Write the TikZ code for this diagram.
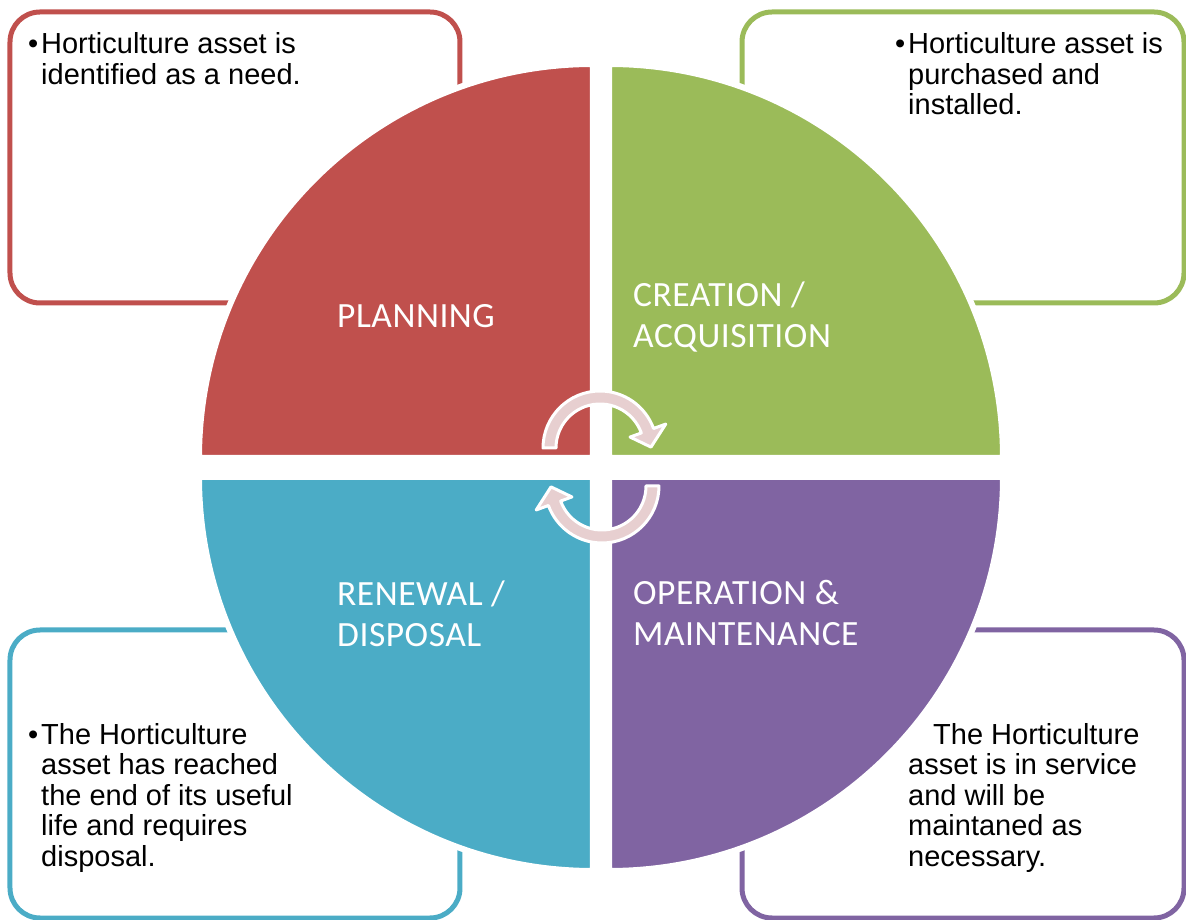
\documentclass[tikz,border=0pt]{standalone}
\usepackage{fontspec}
\setmainfont{Liberation Sans}
\newfontfamily\quadfont[LetterSpace=1.5]{Carlito}
\definecolor{planred}{RGB}{192,80,77}
\definecolor{creagreen}{RGB}{155,187,89}
\definecolor{renteal}{RGB}{75,172,198}
\definecolor{opviolet}{RGB}{128,100,162}
\definecolor{cyclepink}{RGB}{231,207,208}

\begin{document}
\begin{tikzpicture}
        [x=1pt,y=1pt,
        box/.style={draw=#1,line width=5pt,rounded corners=30pt},
        quad/.style={fill=#1,draw=white,line width=6pt},
        note/.style={anchor=base west,inner sep=0pt,align=left,
                     font=\fontsize{29}{30.5}\selectfont},% base = last line
        lbl/.style={anchor=base west,inner sep=0pt,align=left,text=white,
                    font=\quadfont\fontsize{35.5}{41}\selectfont},
        cyc/.style={fill=cyclepink,draw=white,line width=3pt,line join=round}]
        \useasboundingbox (-601,-453) rectangle (585,467);
        % outer boxes
        \draw[box=planred] (-591,164) rectangle (-141,455);
        \draw[box=creagreen] (141,164) rectangle (583,455);
        \draw[box=renteal] (-591,-451) rectangle (-141,-163);
        \draw[box=opviolet] (141,-451) rectangle (583,-163);
        % the four quarters
        \draw[quad=planred] (-8,9) -- ++(-394,0) arc[start angle=180,end angle=90,radius=394] -- cycle;
        \draw[quad=creagreen] (8,9) -- ++(0,394) arc[start angle=90,end angle=0,radius=394] -- cycle;
        \draw[quad=renteal] (-8,-10) -- ++(0,-394) arc[start angle=270,end angle=180,radius=394] -- cycle;
        \draw[quad=opviolet] (8,-10) -- ++(394,0) arc[start angle=0,end angle=-90,radius=394] -- cycle;
        % cycle arrows
        \foreach \ang/\cx/\cy in {0/-1/19,180/1/-19}
            \draw[cyc,shift={(\cx,\cy)},rotate=\ang]
                (180:57) arc[start angle=180,end angle=20,radius=57]
                -- (20:70) -- (1:51) -- (20:32) -- (20:44)
                arc[start angle=20,end angle=180,radius=44] -- cycle;
        % quarter labels
        \node[lbl] (plan) at (-264,139) {PLANNING};
        \node[lbl] (crea) at (32,119) {CREATION /\\ACQUISITION};
        \node[lbl] (renew) at (-264,-180) {RENEWAL /\\DISPOSAL};
        \node[lbl] (oper) at (32,-179) {OPERATION \&\\MAINTENANCE};
        % box texts
        \node[note] (needtxt) at (-560,382.5)
            {\llap{\textbullet\hspace{3pt}}Horticulture asset is\\identified as a need.};
        \node[note] (buytxt) at (307,352)
            {\llap{\textbullet\hspace{3pt}}Horticulture asset is\\purchased and\\installed.};
        \node[note] (endtxt) at (-560,-399)
            {\llap{\textbullet\hspace{3pt}}The Horticulture\\asset has reached\\the end of its useful\\life and requires\\disposal.};
        \node[note] (servtxt) at (307,-399)
            {\hspace*{25pt}The Horticulture\\asset is in service\\and will be\\maintaned as\\necessary.};
\end{tikzpicture}
\end{document}
